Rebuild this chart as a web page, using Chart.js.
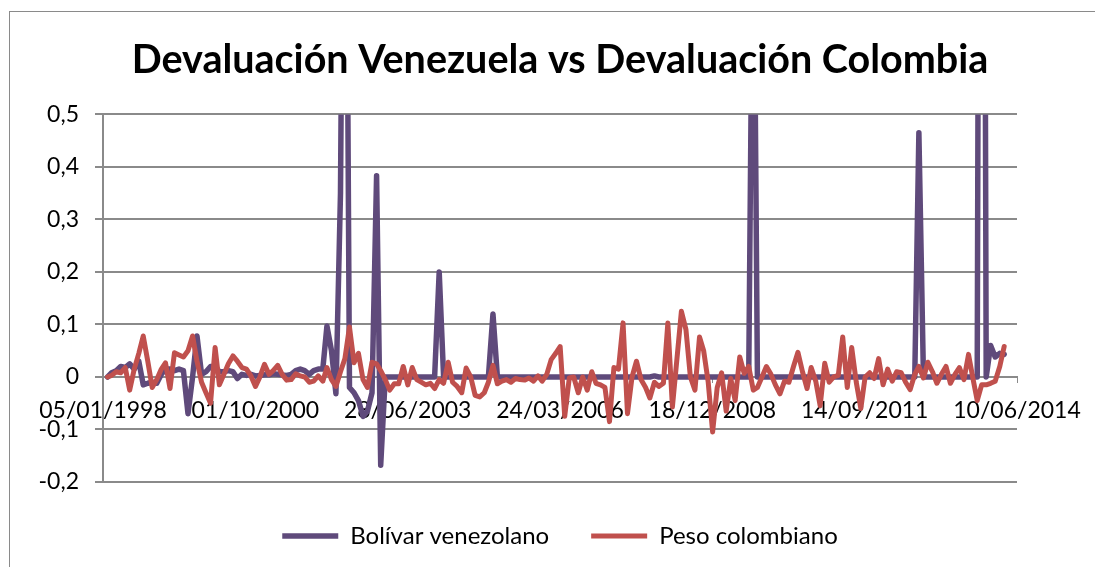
<!DOCTYPE html>
<html lang="es">
<head>
<meta charset="utf-8">
<title>Devaluación Venezuela vs Devaluación Colombia</title>
<script src="https://cdn.jsdelivr.net/npm/chart.js@4.4.1/dist/chart.umd.min.js"></script>
<style>
  html, body { margin: 0; padding: 0; background: #fff; overflow: hidden; }
  #marco { position: absolute; left: 9px; top: 11px; width: 1200px; height: 700px; border: 1px solid #8a8a8a; }
  #contenedor { position: absolute; left: 0; top: 0; width: 1120px; height: 567px; }
</style>
</head>
<body>
<div id="marco"></div>
<div id="contenedor"><canvas id="grafico"></canvas></div>
<script>
// Eje X en días desde el 05/01/1998; datos mensuales de feb-1998 a oct-2014
var inicioEje = Date.UTC(1998, 0, 5);
var fechas = [];
for (var i = 0; i < 201; i++) fechas.push(Date.UTC(1998, 1 + i, 5));

var etiquetasX = ['05/01/1998', '01/10/2000', '28/06/2003', '24/03/2006', '18/12/2008', '14/09/2011', '10/06/2014'];

// Devaluación mensual del bolívar
var bolivar = [
  0, 0.008, 0.012, 0.02, 0.018, 0.025, 0.015, 0.03, -0.015, -0.012,
  -0.01, -0.012, 0.005, 0.015, 0.015, 0.012, 0.015, 0.012, -0.07, 0.0,
  0.078, 0.005, 0.01, 0.02, 0.02, 0.01, 0.01, 0.012, 0.01, -0.003,
  0.005, 0.003, 0.005, 0.002, 0.003, 0.004, 0.004, 0.006, 0.005, 0.004,
  0.003, 0.005, 0.012, 0.015, 0.012, 0.005, 0.012, 0.015, 0.015, 0.097,
  0.05, -0.032, 0.35, 1.5, -0.02, -0.03, -0.045, -0.075, -0.065, -0.03,
  0.383, -0.168, 0, 0, 0, 0, 0, 0, 0, 0,
  0, 0, 0, 0, 0.2, 0, 0, 0, 0, 0,
  0, 0, 0, 0, 0, 0, 0.12, 0, 0, 0,
  0, 0, 0, 0, 0, 0, 0, 0, 0, 0,
  0, 0, 0, 0, 0, 0, 0, 0, 0, 0,
  0, 0, 0, 0, 0, 0, 0, 0, 0, 0,
  0, 0, 0.002, 0, 0, 0, 0, 0, 0, 0,
  0, 0, 0, 0, 0, 0, 0, 0, 0, 0,
  0, 0, 0, 0, 1.0, 0, 0, 0, 0, 0,
  0, 0, 0, 0, 0, 0, 0, 0, 0, 0,
  0, 0, 0, 0, 0, 0, 0, 0, 0, 0,
  0, 0, 0, 0, 0, 0, 0, 0, 0, 0,
  0, 0.465, 0, 0, 0, 0, 0, 0, 0, 0,
  0, 0, 0, 0, 0, 3.0, 0, 0.06, 0.038, 0.045,
  0.043
];

// Devaluación mensual del peso colombiano
var peso = [
  0, 0.003, 0.01, 0.008, 0.018, -0.025, 0.015, 0.045, 0.078, 0.03,
  -0.02, -0.005, 0.015, 0.027, -0.022, 0.046, 0.042, 0.038, 0.05, 0.078,
  0.03, -0.01, -0.03, -0.05, 0.056, -0.015, 0.005, 0.025, 0.04, 0.03,
  0.018, 0.015, 0.002, -0.018, 0.0, 0.024, 0.005, 0.012, 0.022, 0.005,
  -0.006, -0.005, 0.006, 0.002, 0.0, -0.01, -0.008, 0.002, -0.008, 0.018,
  -0.005, -0.018, 0.01, 0.035, 0.095, 0.027, 0.045, -0.005, -0.02, 0.028,
  0.025, 0.012, -0.005, -0.025, -0.013, -0.013, 0.02, -0.015, 0.018, -0.005,
  -0.01, -0.015, -0.012, -0.022, -0.005, -0.012, 0.028, -0.01, -0.018, -0.03,
  0.017, 0.0, -0.035, -0.038, -0.03, -0.01, 0.022, -0.013, -0.008, -0.005,
  -0.01, -0.003, -0.005, -0.006, -0.002, -0.008, 0.002, -0.008, 0.005, 0.033,
  0.045, 0.058, -0.075, -0.002, 0.0, -0.03, 0.0, -0.025, 0.01, -0.012,
  -0.015, -0.02, -0.085, 0.018, 0.015, 0.103, -0.07, 0.0, 0.03, -0.005,
  -0.02, -0.04, -0.01, -0.018, -0.012, 0.103, -0.057, 0.035, 0.125, 0.09,
  0.0, -0.025, 0.076, 0.05, -0.01, -0.105, -0.02, 0.008, -0.065, -0.003,
  -0.045, 0.038, 0.007, 0.02, -0.025, -0.02, 0.0, 0.02, 0.005, -0.015,
  -0.032, -0.008, -0.01, 0.02, 0.047, 0.01, -0.022, 0.018, -0.008, -0.055,
  0.026, -0.01, 0.0, 0.003, 0.076, -0.02, 0.056, -0.01, -0.06, 0.0,
  0.008, -0.003, 0.035, -0.015, 0.015, -0.008, 0.01, 0.008, -0.01, -0.024,
  0.005, 0.02, -0.002, 0.028, 0.01, -0.012, 0.005, 0.02, -0.012, 0.005,
  0.018, -0.005, 0.043, 0.0, -0.045, -0.015, -0.015, -0.012, -0.008, 0.02,
  0.058
];

var dias = fechas.map(function (f) { return Math.round((f - inicioEje) / 864e5); });

function puntos(serie) {
  return serie.map(function (v, i) { return { x: dias[i], y: v }; });
}

var fuenteEjes = { family: 'Lato', size: 23 };
var gris = '#8a8a8a';

new Chart(document.getElementById('grafico'), {
  type: 'line',
  data: {
    datasets: [
      {
        label: 'Bolívar venezolano',
        data: puntos(bolivar),
        borderColor: '#5f4a7b',
        backgroundColor: '#5f4a7b',
        borderWidth: 5.5,
        order: 1
      },
      {
        label: 'Peso colombiano',
        data: puntos(peso),
        borderColor: '#c0504d',
        backgroundColor: '#c0504d',
        borderWidth: 5,
        order: 0
      }
    ]
  },
  options: {
    responsive: true,
    maintainAspectRatio: false,
    animation: false,
    elements: {
      point: { radius: 0 },
      line: { tension: 0, borderJoinStyle: 'round', borderCapStyle: 'round' }
    },
    layout: { padding: { left: 0, right: 0, top: 0, bottom: 9 } },
    plugins: {
      title: {
        display: true,
        text: 'Devaluación Venezuela vs Devaluación Colombia',
        color: '#000',
        font: { family: 'Lato', size: 39.5, weight: 'bold' },
        padding: { top: 37, bottom: 30 }
      },
      legend: {
        position: 'bottom',
        labels: {
          usePointStyle: true,
          pointStyle: 'line',
          pointStyleWidth: 56,
          color: '#000',
          font: { family: 'Lato', size: 24 },
          padding: 42,
          sort: function (a, b) { return a.datasetIndex - b.datasetIndex; }
        }
      },
      tooltip: { enabled: false }
    },
    scales: {
      x: {
        type: 'linear',
        position: { y: 0 },
        min: 0,
        max: 6204,
        grid: { drawOnChartArea: false, tickLength: 5, color: gris, lineWidth: 1 },
        border: { color: gris, width: 2 },
        ticks: {
          stepSize: 1000,
          includeBounds: false,
          autoSkip: false,
          maxRotation: 0,
          padding: 15,
          color: '#000',
          font: fuenteEjes,
          callback: function (v) { return etiquetasX[Math.round(v / 1000)]; }
        }
      },
      y: {
        min: -0.2,
        max: 0.5,
        afterFit: function (escala) { escala.width = 103; },
        grid: { color: gris, lineWidth: 2, tickLength: 8 },
        border: { color: gris, width: 2 },
        ticks: {
          stepSize: 0.1,
          padding: 16,
          color: '#000',
          font: fuenteEjes,
          callback: function (v) {
            if (Math.abs(v) < 1e-9) return '0';
            return v.toFixed(1).replace('.', ',');
          }
        }
      },
      // margen vacío a la derecha del área de trazado
      margenDerecho: {
        type: 'linear',
        position: 'right',
        grid: { display: false },
        border: { display: false },
        ticks: { display: false },
        afterFit: function (escala) { escala.width = 103; }
      }
    }
  }
});
</script>
</body>
</html>
